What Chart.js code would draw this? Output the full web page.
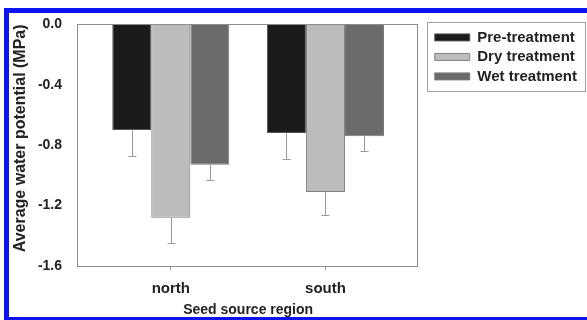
<!DOCTYPE html>
<html>
<head>
<meta charset="utf-8">
<script src="https://cdn.jsdelivr.net/npm/chart.js@4.4.1/dist/chart.umd.min.js"></script>
<style>
    html, body { margin: 0; padding: 0; background: #fff; }
    #wrap { position: relative; width: 587px; height: 320px; overflow: hidden; }
    #wrap canvas { position: absolute; left: 0; top: 0; }
    #frame { position: absolute; left: 4px; top: 8px; width: 600px; height: 304px;
             border: 5px solid #0b14f0; border-right: none; pointer-events: none; }
</style>
</head>
<body>
<div id="wrap">
    <canvas id="waterChart" width="587" height="320"></canvas>
    <div id="frame"></div>
</div>
<script>
// === Data ===
var regions = ["north", "south"];
var seriesNames = ["Pre-treatment", "Dry treatment", "Wet treatment"];
var preMeans = [-0.70, -0.72];
var dryMeans = [-1.28, -1.11];
var wetMeans = [-0.93, -0.74];
var preErrors = [0.17, 0.17];
var dryErrors = [0.17, 0.155];
var wetErrors = [0.10, 0.10];
var yTicks = [0.0, -0.4, -0.8, -1.2, -1.6];

var textColor = '#222';

function toPoints(values) {
    return values.map(function(v, i) { return { x: i + 1, y: v }; });
}

// error bars only go down (away from zero), with a small cap
var errorBars = {
    id: 'errorBars',
    afterDatasetsDraw: function(chart) {
        var ctx = chart.ctx;
        var yScale = chart.scales.y;
        ctx.save();
        ctx.strokeStyle = '#9a9a9a';
        ctx.lineWidth = 1;
        chart.data.datasets.forEach(function(ds, i) {
            var meta = chart.getDatasetMeta(i);
            meta.data.forEach(function(bar, j) {
                var x = Math.round(bar.x) + 0.5;
                var yEnd = Math.round(yScale.getPixelForValue(ds.data[j].y - ds.errors[j])) + 0.5;
                ctx.beginPath();
                ctx.moveTo(x, bar.y);
                ctx.lineTo(x, yEnd);
                ctx.moveTo(x - 4, yEnd);
                ctx.lineTo(x + 4, yEnd);
                ctx.stroke();
            });
        });
        ctx.restore();
    }
};

// plot frame + box around the legend
var boxes = {
    id: 'boxes',
    afterDraw: function(chart) {
        var ctx = chart.ctx;
        var a = chart.chartArea;
        ctx.save();
        ctx.strokeStyle = '#8c8c8c';
        ctx.lineWidth = 1;
        ctx.strokeRect(Math.round(a.left) - 0.5, Math.round(a.top) + 0.5,
                       Math.round(a.right - a.left), Math.round(a.bottom - a.top));
        var hb = chart.legend.legendHitBoxes;
        if (hb && hb.length) {
            var last = hb[hb.length - 1];
            var x0 = Math.round(hb[0].left - 8), y0 = Math.round(hb[0].top - 8);
            var x1 = Math.round(chart.legend.right - 2);
            var y1 = Math.round(last.top + last.height + 7);
            ctx.strokeStyle = '#a0a0a0';
            ctx.strokeRect(x0 + 0.5, y0 + 0.5, x1 - x0, y1 - y0);
        }
        ctx.restore();
    }
};

var ctx = document.getElementById('waterChart').getContext('2d');
var waterChart = new Chart(ctx, {
    type: 'bar',
    data: {
        datasets: [{
            label: seriesNames[0],
            data: toPoints(preMeans),
            errors: preErrors,
            backgroundColor: '#1b1b1b',
            borderColor: '#555',
            borderWidth: 1
        }, {
            label: seriesNames[1],
            data: toPoints(dryMeans),
            errors: dryErrors,
            backgroundColor: '#bcbcbc',
            borderColor: '#808080',
            borderWidth: 1
        }, {
            label: seriesNames[2],
            data: toPoints(wetMeans),
            errors: wetErrors,
            backgroundColor: '#6b6b6b',
            borderColor: '#7a7a7a',
            borderWidth: 1
        }]
    },
    options: {
        responsive: false,
        devicePixelRatio: 1,
        animation: false,
        categoryPercentage: 0.757,
        barPercentage: 1.0,
        layout: { padding: { left: 11, top: 23, right: 0, bottom: 0 } },
        plugins: {
            tooltip: { enabled: false },
            legend: {
                position: 'right',
                align: 'start',
                maxWidth: 200,
                title: { display: true, text: '', font: { size: 2 }, padding: 0 },
                labels: {
                    boxWidth: 35,
                    boxHeight: 7,
                    padding: 4.5,
                    color: textColor,
                    font: { family: 'Liberation Sans', size: 15, weight: 'bold' }
                }
            }
        },
        scales: {
            x: {
                type: 'linear',
                min: 0.4,
                max: 2.6,
                offset: false,
                afterBuildTicks: function(scale) {
                    scale.ticks = regions.map(function(r, i) { return { value: i + 1 }; });
                },
                afterFit: function(scale) { scale.height = 54; },
                grid: { display: true, drawOnChartArea: false, drawTicks: true, tickLength: 4,
                        color: '#999', offset: false },
                border: { display: false },
                ticks: {
                    padding: 10,
                    color: textColor,
                    font: { family: 'Liberation Sans', size: 15, weight: 'bold' },
                    callback: function(value) { return regions[value - 1]; }
                },
                title: {
                    display: true,
                    text: 'Seed source region',
                    color: textColor,
                    padding: { top: 0, bottom: 1 },
                    font: { family: 'Liberation Sans', size: 14, weight: 'bold' }
                }
            },
            y: {
                min: -1.6,
                max: 0,
                afterBuildTicks: function(scale) {
                    scale.ticks = yTicks.map(function(v) { return { value: v }; });
                },
                afterFit: function(scale) { scale.width = 67; },
                grid: { display: false, drawTicks: false },
                border: { display: false },
                ticks: {
                    padding: 16,
                    color: textColor,
                    font: { family: 'Liberation Sans', size: 14, weight: 'bold' },
                    callback: function(value) { return Number(value).toFixed(1); }
                },
                title: {
                    display: true,
                    text: 'Average water potential (MPa)',
                    align: 'end',
                    color: textColor,
                    padding: 0,
                    font: { family: 'Liberation Sans', size: 16, weight: 'bold' }
                }
            },
            gap: {
                type: 'linear',
                position: 'right',
                display: true,
                afterFit: function(scale) { scale.width = 12; },
                grid: { display: false, drawTicks: false },
                border: { display: false },
                ticks: { display: false }
            }
        }
    },
    plugins: [errorBars, boxes]
});
</script>
</body>
</html>
